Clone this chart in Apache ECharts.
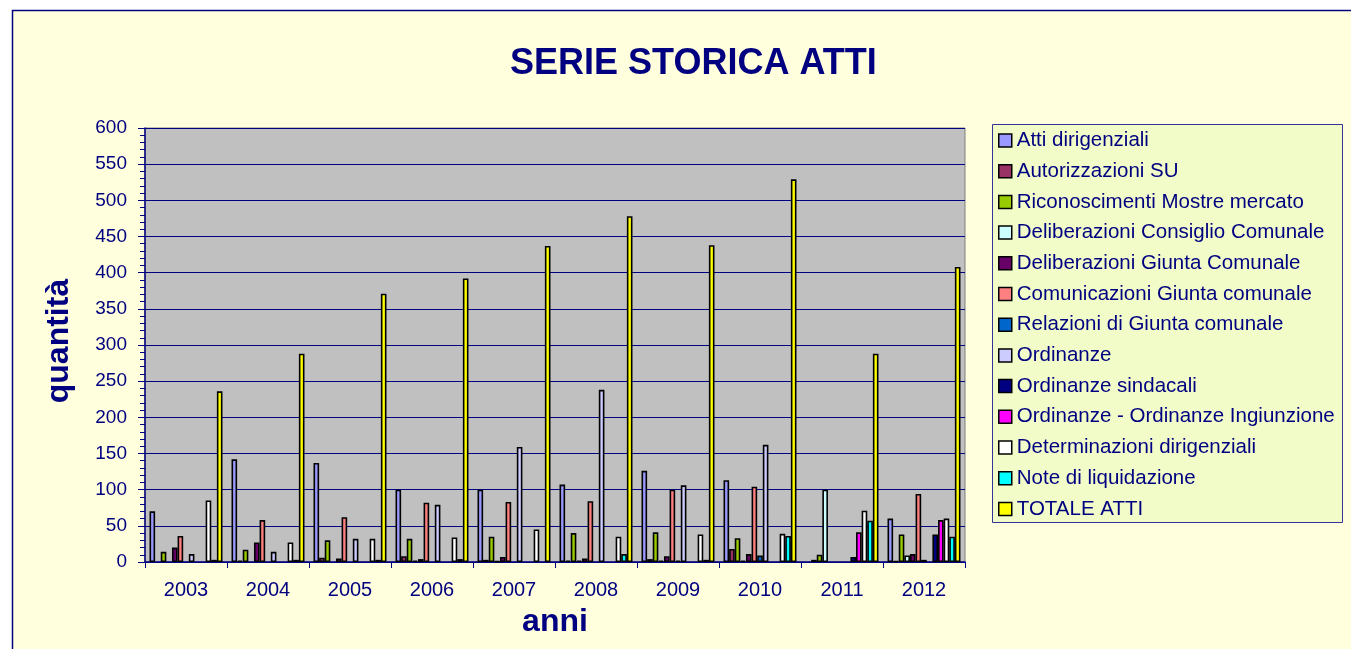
<!DOCTYPE html>
<html>
<head>
<meta charset="utf-8">
<title>Serie storica atti</title>
<script src="https://cdn.jsdelivr.net/npm/echarts@6/dist/echarts.min.js"></script>
<style>
  html, body { margin: 0; padding: 0; background: #fff; }
  #container { width: 1351px; height: 649px; }
</style>
</head>
<body>
<div id="container"></div>
<script>
var anni = ['2003', '2004', '2005', '2006', '2007', '2008', '2009', '2010', '2011', '2012']

var attiDirigenziali       = [70, 142, 137, 100, 100, 107, 126, 113, 0, 60]
var autorizzazioniSU       = [0, 2, 6, 8, 3, 2, 4, 18, 3, 1]
var riconoscimentiMostre   = [14, 17, 30, 32, 35, 40, 41, 33, 10, 38]
var delibConsiglio         = [0, 0, 0, 2, 1, 2, 2, 2, 100, 9]
var delibGiunta            = [20, 27, 5, 4, 7, 5, 8, 11, 0, 11]
var comunicazioniGiunta    = [36, 58, 62, 82, 83, 84, 100, 104, 0, 94]
var relazioniGiunta        = [0, 0, 0, 0, 0, 0, 2, 9, 0, 3]
var ordinanze              = [11, 14, 32, 79, 159, 238, 106, 162, 0, 0]
var ordinanzeSindacali     = [0, 0, 0, 0, 0, 0, 0, 0, 7, 38]
var ordinanzeIngiunzione   = [0, 0, 0, 0, 0, 0, 0, 0, 41, 58]
var determinazioni         = [85, 27, 32, 34, 45, 35, 38, 39, 71, 60]
var noteLiquidazione       = [3, 3, 3, 4, 0, 11, 3, 36, 57, 35]
var totaleAtti             = [236, 288, 371, 392, 437, 478, 438, 529, 288, 408]

var yTicks = [0, 50, 100, 150, 200, 250, 300, 350, 400, 450, 500, 550, 600]

var serie = [
  ['Atti dirigenziali', attiDirigenziali, '#9999FF'],
  ['Autorizzazioni SU', autorizzazioniSU, '#993366'],
  ['Riconoscimenti Mostre mercato', riconoscimentiMostre, '#99CC00'],
  ['Deliberazioni Consiglio Comunale', delibConsiglio, '#CCFFFF'],
  ['Deliberazioni Giunta Comunale', delibGiunta, '#660066'],
  ['Comunicazioni Giunta comunale', comunicazioniGiunta, '#FF8080'],
  ['Relazioni di Giunta comunale', relazioniGiunta, '#0066CC'],
  ['Ordinanze', ordinanze, '#CCCCFF'],
  ['Ordinanze sindacali', ordinanzeSindacali, '#000080'],
  ['Ordinanze - Ordinanze Ingiunzione', ordinanzeIngiunzione, '#FF00FF'],
  ['Determinazioni dirigenziali', determinazioni, '#FFFFFF'],
  ['Note di liquidazione', noteLiquidazione, '#00FFFF'],
  ['TOTALE ATTI', totaleAtti, '#FFFF00']
]

var font = "'Liberation Sans', Arial, sans-serif"
var navy = '#000080'

var dom = document.getElementById('container')
var myChart = echarts.init(dom)

var series = serie.map(function (s) {
  return {
    name: s[0],
    type: 'bar',
    barGap: '0%',
    barCategoryGap: '11%',
    // zero means no bar in the original, so skip it
    data: s[1].map(function (v) { return v === 0 ? '-' : v }),
    itemStyle: {
      color: s[2],
      borderColor: '#000',
      borderWidth: 1.6
    }
  }
})

var option = {
  backgroundColor: '#fff',
  animation: false,
  textStyle: { fontFamily: font },
  title: {
    text: 'SERIE STORICA ATTI',
    left: 510,
    top: 46,
    padding: 0,
    textStyle: { color: navy, fontSize: 36, fontWeight: 'bold', fontFamily: font }
  },
  graphic: [
    {
      type: 'rect',
      z: -10,
      shape: { x: 12.5, y: 10.5, width: 1400, height: 700 },
      style: { fill: '#FFFFDD', stroke: navy, lineWidth: 1.5 }
    },
    {
      type: 'rect',
      z: -5,
      shape: { x: 992.5, y: 124.5, width: 350, height: 398 },
      style: { fill: '#F1FCC8', stroke: '#333399', lineWidth: 1 }
    }
  ],
  legend: {
    orient: 'vertical',
    left: 998,
    top: 130,
    padding: 0,
    itemWidth: 13,
    itemHeight: 13,
    itemGap: 9.7,
    icon: 'rect',
    itemStyle: { borderColor: '#000', borderWidth: 1.5 },
    textStyle: { color: navy, fontSize: 20.5, lineHeight: 20, fontFamily: font },
    data: serie.map(function (s) { return s[0] })
  },
  grid: {
    left: 145,
    top: 128,
    width: 820,
    height: 434,
    show: true,
    backgroundColor: '#C0C0C0',
    borderColor: '#808080',
    borderWidth: 1
  },
  xAxis: {
    type: 'category',
    data: anni,
    name: 'anni',
    nameLocation: 'middle',
    nameGap: 44,
    nameTextStyle: { color: navy, fontSize: 32, fontWeight: 'bold', fontFamily: font },
    axisLine: { lineStyle: { color: navy, width: 1.5 } },
    axisTick: { show: true, length: 6, lineStyle: { color: navy } },
    axisLabel: { color: navy, fontSize: 20, margin: 18, fontFamily: font },
    splitLine: { show: false }
  },
  yAxis: {
    type: 'value',
    min: yTicks[0],
    max: yTicks[yTicks.length - 1],
    interval: 50,
    name: 'quantità',
    nameLocation: 'middle',
    nameRotate: 90,
    nameGap: 70,
    nameTextStyle: { color: navy, fontSize: 32, fontWeight: 'bold', fontFamily: font, padding: [0, 0, 0, 8] },
    axisLine: { show: true, lineStyle: { color: navy, width: 1.5 } },
    axisTick: { show: true, length: 7, lineStyle: { color: navy } },
    minorTick: { show: true, splitNumber: 5, length: 5, lineStyle: { color: navy } },
    axisLabel: { color: navy, fontSize: 19, margin: 18, fontFamily: font },
    splitLine: { show: true, lineStyle: { color: navy, width: 1 } }
  },
  series: series
}

myChart.setOption(option, true)
</script>
</body>
</html>
